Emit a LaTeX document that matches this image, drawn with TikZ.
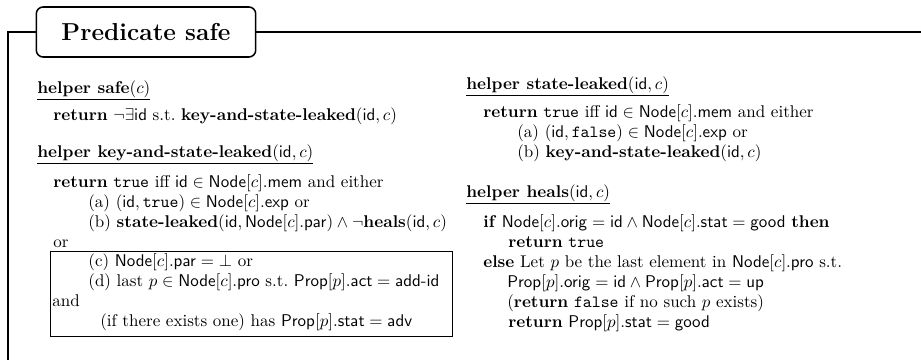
\documentclass[tikz,border=0pt]{standalone}
\usepackage{amsmath}
\usepackage{amssymb}
\usepackage{tikz}
\newcommand{\Nd}{\mathsf{Node}}
\newcommand{\Pp}{\mathsf{Prop}}
\newcommand{\idv}{\mathsf{id}}
\newcommand{\fld}[1]{\mathsf{#1}}
\newcommand{\lines}[1]{\begin{tabular}[t]{@{}l@{}}#1\end{tabular}}

\begin{document}
\begin{tikzpicture}[
  x=0.588pt, y=-0.588pt,
  font=\fontsize{10}{11.76}\selectfont,
  txt/.style={anchor=base west, inner sep=0pt},
  ttl/.style={draw, line width=0.9pt, rounded corners=4pt, minimum width=129pt,
              minimum height=29.4pt, font=\Large\bfseries},
  frm/.style={line width=0.9pt},
  condbox/.style={draw, line width=0.5pt, anchor=north west, inner sep=0pt,
                  minimum width=236.4pt, minimum height=50pt}
]
\useasboundingbox (0,0) rectangle (921,360);

% Title and frame
\node[ttl] (title) at (146,32) {Predicate safe};
\coordinate (fcorner) at (8,32);
\coordinate (fright)  at (921,32);
\coordinate (fbottom) at (8,360);
\draw[frm] (title.west) -- (fcorner) -- (fbottom);
\draw[frm] (title.east) -- (fright);

% helper safe
\node[txt] (hsafe) at (37,93) {\underline{\textbf{helper safe}$(c)$}};
\node[txt] (rsafe) at (53,120)
  {\textbf{return} $\neg\exists\idv$ s.t.\ \textbf{key-and-state-leaked}$(\idv, c)$};

% helper key-and-state-leaked
\node[txt] (hkey) at (37,157) {\underline{\textbf{helper key-and-state-leaked}$(\idv, c)$}};
\node[txt] (bkey) at (53,187) {\lines{%
  \textbf{return} \texttt{true} iff $\idv \in \Nd[c].\fld{mem}$ and either\\
  \hspace*{20.6pt}(a) $(\idv, \texttt{true}) \in \Nd[c].\fld{exp}$ or\\
  \hspace*{20.6pt}(b) \textbf{state-leaked}$(\idv, \Nd[c].\fld{par}) \land \neg$\textbf{heals}$(\idv, c)$\\
  or}};
\node[condbox] (cbox) at (50,251) {};
\node[txt] (bcond) at (52,266) {\lines{%
  \hspace*{21.2pt}(c) $\Nd[c].\fld{par} = \bot$ or\\
  \hspace*{21.2pt}(d) last $p \in \Nd[c].\fld{pro}$ s.t.\ $\Pp[p].\fld{act} = \textsf{add-id}$\\
  and\\
  \hspace*{28.2pt}(if there exists one) has $\Pp[p].\fld{stat} = \fld{adv}$}};

% helper state-leaked
\node[txt] (hstate) at (466,89) {\underline{\textbf{helper state-leaked}$(\idv, c)$}};
\node[txt] (bstate) at (483,117) {\lines{%
  \textbf{return} \texttt{true} iff $\idv \in \Nd[c].\fld{mem}$ and either\\
  \hspace*{20pt}(a) $(\idv, \texttt{false}) \in \Nd[c].\fld{exp}$ or\\
  \hspace*{20pt}(b) \textbf{key-and-state-leaked}$(\idv, c)$}};

% helper heals
\node[txt] (hheals) at (466,197) {\underline{\textbf{helper heals}$(\idv, c)$}};
\node[txt] (bheals) at (483,227) {\lines{%
  \textbf{if} $\Nd[c].\fld{orig} = \idv \land \Nd[c].\fld{stat} = \fld{good}$ \textbf{then}\\
  \hspace*{14.7pt}\textbf{return} \texttt{true}\\
  \textbf{else} Let $p$ be the last element in $\Nd[c].\fld{pro}$ s.t.\\
  \hspace*{14.1pt}$\Pp[p].\fld{orig} = \idv \land \Pp[p].\fld{act} = \fld{up}$\\
  \hspace*{14.1pt}(\textbf{return} \texttt{false} if no such $p$ exists)\\
  \hspace*{14.7pt}\textbf{return} $\Pp[p].\fld{stat} = \fld{good}$}};

\end{tikzpicture}
\end{document}
